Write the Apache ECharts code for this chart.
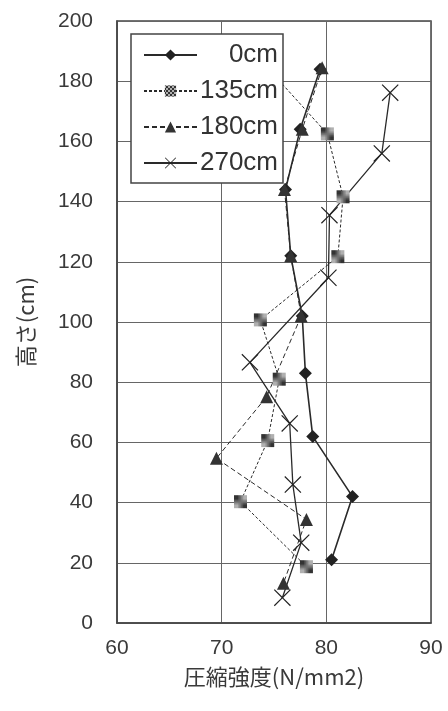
<!DOCTYPE html>
<html><head><meta charset="utf-8">
<script src="https://cdn.jsdelivr.net/npm/echarts@6/dist/echarts.min.js"></script>
<style>html,body{margin:0;padding:0;background:#fff}#c{width:448px;height:711px}</style>
</head><body><div id="c"></div>
<script>
const seriesNames = ['0cm', '135cm', '180cm', '270cm'];
const xTicks = [60, 70, 80, 90];
const yTicks = [0, 20, 40, 60, 80, 100, 120, 140, 160, 180, 200];

const strength0 = [79.4, 77.5, 76.1, 76.6, 77.7, 78.0, 78.7, 82.5, 80.5];
const height0   = [184, 164, 144, 122, 102, 83, 62, 42, 21];

const strength135 = [74.5, 80.1, 81.6, 81.1, 73.7, 75.5, 74.4, 71.8, 78.1];
const height135   = [184, 162.5, 141.6, 121.7, 100.7, 81, 60.6, 40.3, 18.7];

const strength180 = [79.6, 77.7, 76.0, 76.6, 77.6, 74.3, 69.5, 78.1, 75.9];
const height180   = [184.5, 164, 144, 122, 102, 75.2, 54.7, 34.4, 13.2];

const strength270 = [86.1, 85.3, 80.3, 80.2, 72.7, 76.5, 76.8, 77.6, 75.8];
const height270   = [176.2, 156, 135.5, 114.7, 86.6, 66.3, 46, 26.7, 8.4];

function zip(xs, ys) { return xs.map((x, i) => [x, ys[i]]); }

// checker pattern for the 135cm marker
const pc = document.createElement('canvas');
pc.width = 4; pc.height = 4;
const g = pc.getContext('2d');
g.fillStyle = '#b0b0b0'; g.fillRect(0, 0, 4, 4);
g.fillStyle = '#333'; g.fillRect(0, 0, 2, 2); g.fillRect(2, 2, 2, 2);
const checker = { image: pc, repeat: 'repeat' };

const xPath = 'path://M0,0.5 L0.5,0 L5,4.5 L9.5,0 L10,0.5 L5.5,5 L10,9.5 L9.5,10 L5,5.5 L0.5,10 L0,9.5 L4.5,5 Z';

const lineColor = '#2a2a2a';
const lblFont = 'Liberation Sans, Arial, sans-serif';
const chart = echarts.init(document.getElementById('c'), null, { renderer: 'canvas' });
chart.setOption({
  animation: false,
  backgroundColor: '#fff',
  grid: { left: 117, right: 17, top: 21, bottom: 88, show: true, borderColor: '#444', borderWidth: 1.5 },
  legend: {
    orient: 'vertical', left: 131, top: 34,
    backgroundColor: '#fff', borderColor: '#444', borderWidth: 1.5, borderRadius: 0,
    padding: [8, 5, 7, 12], itemGap: 10, itemWidth: 53, itemHeight: 14,
    data: seriesNames,
    formatter: n => '{r|' + n + '}',
    textStyle: { color: '#333', fontFamily: lblFont, fontSize: 26,
      rich: { r: { width: 76, align: 'right', fontSize: 26, color: '#333', fontFamily: lblFont } } }
  },
  xAxis: {
    type: 'value', min: xTicks[0], max: xTicks[xTicks.length - 1], interval: 10,
    name: '圧縮強度(N/mm2)', nameLocation: 'middle', nameGap: 43,
    nameTextStyle: { fontFamily: 'Noto Sans CJK JP', fontSize: 22, color: '#3a3a3a' },
    axisLine: { show: true, lineStyle: { color: '#444', width: 1.5 } },
    axisTick: { show: false },
    axisLabel: { margin: 15, fontSize: 21, color: '#3a3a3a', fontFamily: lblFont },
    splitLine: { show: true, lineStyle: { color: '#666', width: 1 } }
  },
  yAxis: {
    type: 'value', min: yTicks[0], max: yTicks[yTicks.length - 1], interval: 20,
    name: '高さ(cm)', nameLocation: 'middle', nameGap: 80, nameRotate: 90,
    nameTextStyle: { fontFamily: 'Noto Sans CJK JP', fontSize: 22, color: '#3a3a3a' },
    axisLine: { show: true, lineStyle: { color: '#444', width: 1.5 } },
    axisTick: { show: false },
    axisLabel: { margin: 24, fontSize: 21, color: '#3a3a3a', fontFamily: lblFont },
    splitLine: { show: true, lineStyle: { color: '#666', width: 1 } }
  },
  series: [
    { name: seriesNames[0], type: 'line', data: zip(strength0, height0),
      symbol: 'diamond', symbolSize: 13,
      itemStyle: { color: '#222' }, lineStyle: { color: lineColor, width: 1.6, type: 'solid' } },
    { name: seriesNames[1], type: 'line', data: zip(strength135, height135),
      symbol: 'rect', symbolSize: 13,
      itemStyle: { color: checker },
      lineStyle: { color: lineColor, width: 1, type: [3, 2] } },
    { name: seriesNames[2], type: 'line', data: zip(strength180, height180),
      symbol: 'triangle', symbolSize: 13,
      itemStyle: { color: '#333' }, lineStyle: { color: lineColor, width: 1, type: [5, 3] } },
    { name: seriesNames[3], type: 'line', data: zip(strength270, height270),
      symbol: xPath, symbolSize: 17,
      itemStyle: { color: '#222' }, lineStyle: { color: lineColor, width: 1.3, type: 'solid' } }
  ]
});
</script></body></html>
